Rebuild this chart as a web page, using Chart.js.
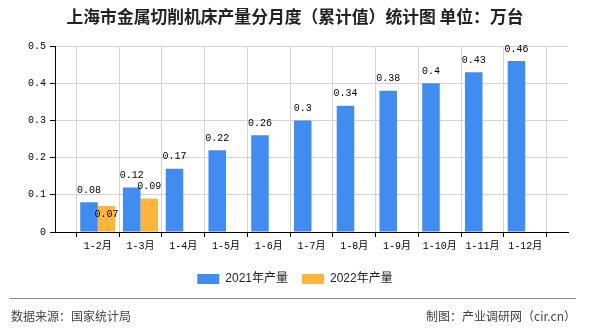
<!DOCTYPE html>
<html>
<head>
<meta charset="utf-8">
<script src="https://cdn.jsdelivr.net/npm/chart.js@4/dist/chart.umd.min.js"></script>
<style>
    html, body { margin: 0; padding: 0; background: #fff; }
    #wrap { position: relative; width: 590px; height: 330px; }
    #chart { position: absolute; left: 0; top: 0; }
    .rule { position: absolute; left: 10px; top: 298px; width: 566px; height: 0; border-top: 1px solid #888; }
    .foot { position: absolute; top: 307px; font: 12px "Noto Sans CJK SC", sans-serif; color: #444; line-height: 18px; }
</style>
</head>
<body>
<div id="wrap">
    <canvas id="chart" width="590" height="330"></canvas>
    <div class="rule"></div>
    <div class="foot" style="left:11px">数据来源：国家统计局</div>
    <div class="foot" style="right:14px">制图：产业调研网（cir.cn）</div>
</div>
<script>
/* ---------- Données ---------- */
const months = ["1-2月", "1-3月", "1-4月", "1-5月", "1-6月", "1-7月", "1-8月", "1-9月", "1-10月", "1-11月", "1-12月"];
const output2021 = [0.08, 0.12, 0.17, 0.22, 0.26, 0.3, 0.34, 0.38, 0.4, 0.43, 0.46];
const output2022 = [0.07, 0.09];
const yTicks = [0, 0.1, 0.2, 0.3, 0.4, 0.5];

const monoFont = "'Liberation Mono', 'Noto Sans CJK SC', monospace";

// axe "point" : une case vide de chaque côté
const labels = ["", ...months, ""];
const pad = arr => [null, ...months.map((m, i) => (arr[i] === undefined ? null : arr[i])), null];

/* ---------- Étiquettes de valeur ---------- */
const valueLabels = {
    id: "valueLabels",
    afterDatasetsDraw(chart) {
        const ctx = chart.ctx;
        const placed = [];
        ctx.save();
        ctx.font = "10px " + monoFont;
        ctx.fillStyle = "#000";
        ctx.textAlign = "center";
        ctx.textBaseline = "middle";
        chart.data.datasets.forEach((ds, di) => {
            chart.getDatasetMeta(di).data.forEach((bar, i) => {
                const v = ds.data[i];
                if (v === null || v === undefined) return;
                const text = String(v);
                const w = ctx.measureText(text).width;
                let y = bar.y - 12;
                const box = { x0: bar.x - w / 2, x1: bar.x + w / 2, y0: y - 5, y1: y + 5 };
                const hit = placed.some(p => p.x0 < box.x1 && box.x0 < p.x1 && p.y0 < box.y1 && box.y0 < p.y1);
                if (hit) {
                    y = bar.y + 8;
                    box.y0 = y - 5; box.y1 = y + 5;
                }
                placed.push(box);
                ctx.fillText(text, bar.x, y);
            });
        });
        ctx.restore();
    }
};

new Chart(document.getElementById("chart"), {
    type: "bar",
    data: {
        labels: labels,
        datasets: [
            { label: "2021年产量", data: pad(output2021), backgroundColor: "#418CF0" },
            { label: "2022年产量", data: pad(output2022), backgroundColor: "#FFB43C" }
        ]
    },
    options: {
        responsive: false,
        animation: false,
        categoryPercentage: 0.82,
        barPercentage: 1,
        layout: { padding: { left: 22, right: 22, top: 0, bottom: 35 } },
        plugins: {
            title: {
                display: true,
                text: "上海市金属切削机床产量分月度（累计值）统计图 单位：万台",
                color: "#222",
                font: { family: "'Noto Sans CJK SC', sans-serif", size: 16.8, weight: "bold" },
                padding: { top: 7, bottom: 19 }
            },
            legend: {
                position: "bottom",
                labels: {
                    boxWidth: 22,
                    boxHeight: 10,
                    padding: 14,
                    color: "#222",
                    font: { family: "'Liberation Sans', 'Noto Sans CJK SC', sans-serif", size: 12 }
                }
            },
            tooltip: { enabled: false }
        },
        scales: {
            x: {
                offset: false,
                grid: { color: "#d4d4d4", tickColor: "#000", tickLength: 5 },
                border: { color: "#000" },
                ticks: { color: "#000", padding: 3, maxRotation: 0, autoSkip: false, font: { family: monoFont, size: 10 } },
                afterFit: scale => { scale.height = 27; }
            },
            y: {
                min: 0,
                max: 0.5,
                afterBuildTicks: scale => { scale.ticks = yTicks.map(v => ({ value: v })); },
                grid: { color: "#d4d4d4", tickColor: "#000", tickLength: 5 },
                border: { color: "#000" },
                ticks: { color: "#000", padding: 4, font: { family: monoFont, size: 10 } },
                afterFit: scale => { scale.width = 33; }
            }
        }
    },
    plugins: [valueLabels]
});
</script>
</body>
</html>
